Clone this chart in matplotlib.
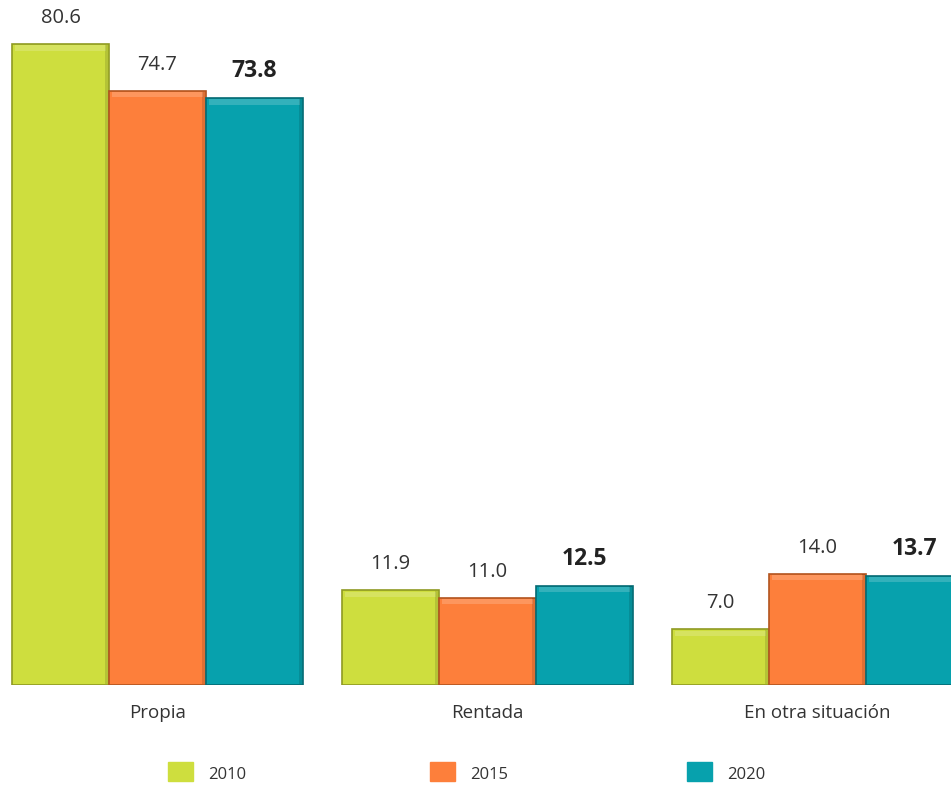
import matplotlib
matplotlib.use("Agg")
import matplotlib.pyplot as plt
import numpy as np
from matplotlib.patches import Rectangle

# datos
categorias = ["Propia", "Rentada", "En otra situación"]
anios = ["2010", "2015", "2020"]
v2010 = [80.6, 11.9, 7.0]
v2015 = [74.7, 11.0, 14.0]
v2020 = [73.8, 12.5, 13.7]
colores = ["#CEDE3E", "#FD7F3B", "#07A1AD"]
bordes = ["#8F9A22", "#B2541F", "#046A73"]

plt.rcParams['font.family'] = ['Open Sans', 'DejaVu Sans']

fig = plt.figure(figsize=(9.51, 7.85), dpi=100)
ax = fig.add_axes([0, 100/785, 1, 685/785])

x = np.arange(len(categorias))
w = 0.294
series = [v2010, v2015, v2020]
for i, vals in enumerate(series):
    pos = x + (i - 1) * w
    bars = ax.bar(pos, vals, width=w, color=colores[i], edgecolor=bordes[i],
                  linewidth=1.2, zorder=2)
    for b in bars:
        # brillo arriba (efecto bisel)
        h = b.get_height()
        ax.add_patch(Rectangle((b.get_x() + 0.008, h - 0.8), b.get_width() - 0.016, 0.65,
                               color="white", alpha=0.18, lw=0, zorder=3))
        # sombra en el lado derecho
        ax.add_patch(Rectangle((b.get_x() + b.get_width() - 0.012, 0.1), 0.01, h - 0.2,
                               color="black", alpha=0.12, lw=0, zorder=3))
    for p, v in zip(pos, vals):
        if i == 2:
            ax.text(p, v + 1.9, f"{v:.1f}", ha="center", va="bottom",
                    fontsize=16.5, color="#222222", fontweight="bold")
        else:
            ax.text(p, v + 2.0, f"{v:.1f}", ha="center", va="bottom",
                    fontsize=14.5, color="#333333")

for xi, c in zip(x, categorias):
    ax.text(xi, -3.5, c, ha="center", va="center", fontsize=13.5, color="#333333")

ax.set_xlim(-157.5/330, (951 - 157.5)/330)
ax.set_ylim(0, 685/7.95)
ax.axis("off")

# leyenda manual
leg_x = [168, 430, 687]
for lx, c, a in zip(leg_x, colores, anios):
    fig.patches.append(Rectangle((lx/951, 1 - 781/785), 25/951, 19/785,
                                 transform=fig.transFigure, color=c))
    fig.text((lx + 40)/951, 1 - 775/785, a, ha="left", va="center",
             fontsize=12, color="#333333")

fig.savefig("out.png", dpi=100)
